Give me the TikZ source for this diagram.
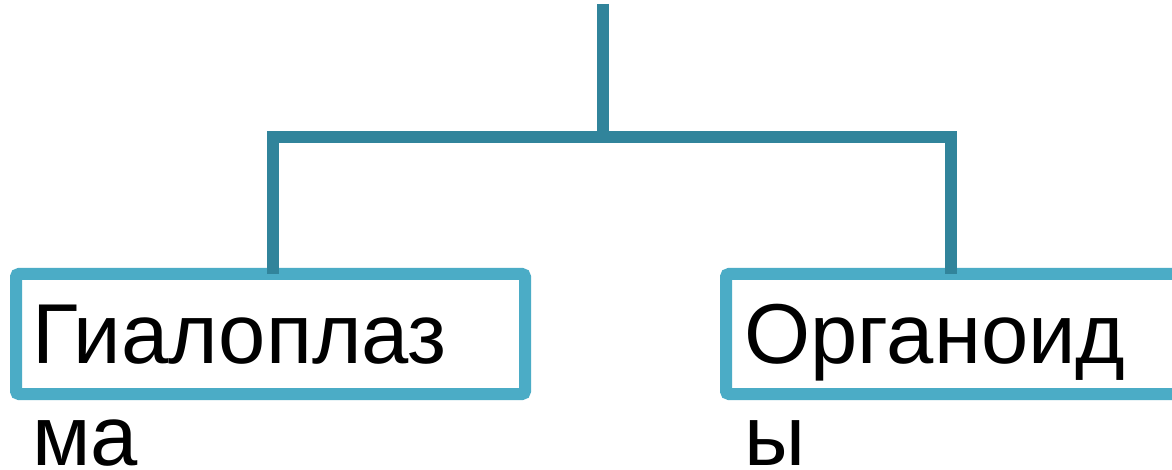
\documentclass[tikz,border=0pt]{standalone}
\usepackage{fontspec}
\setmainfont{Liberation Sans}
\definecolor{boxc}{HTML}{4BACC6}
\definecolor{connc}{HTML}{31849B}
\tikzset{
  boxnode/.style={draw=boxc, line width=12pt, rounded corners=3pt, inner sep=0pt, fill=none},
  conn/.style={draw=connc, line width=12pt},
  lbl/.style={inner sep=0pt, align=left, font=\fontsize{85}{102}\selectfont, anchor=base west}
}
\begin{document}
\begin{tikzpicture}[x=1pt,y=-1pt]
\useasboundingbox (0,0) rectangle (1172,470);
\fill[white] (0,0) rectangle (1172,470);
\node[boxnode, minimum width=509pt, minimum height=120pt] (b1) at (270.5,334) {};
\node[boxnode, minimum width=459pt, minimum height=120pt] (b2) at (955.5,334) {};
\node[lbl] (t1) at (32,465) {Гиалоплаз\\ма};
\node[lbl] (t2) at (744,465) {Органоид\\ы};
\coordinate (top) at (603,4);
\coordinate (hub) at (603,137);
\draw[conn] (top) -- (hub);
\draw[conn] ([xshift=2pt,yshift=-6pt]b1.north) |- (hub) -| ([xshift=-4.5pt,yshift=-6pt]b2.north);
\end{tikzpicture}
\end{document}
